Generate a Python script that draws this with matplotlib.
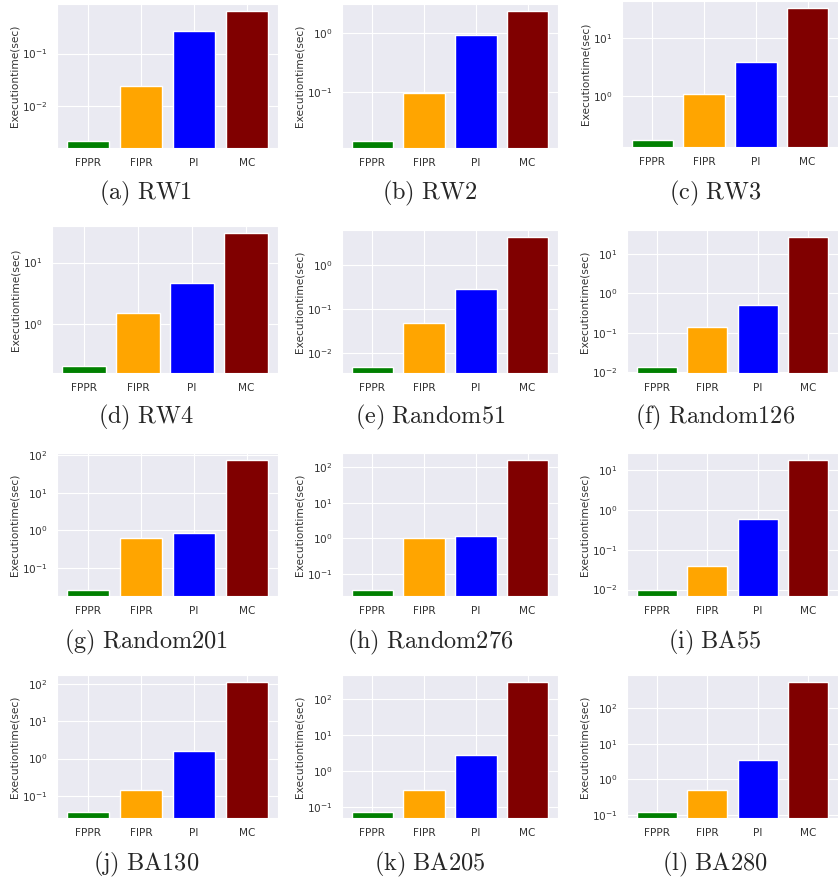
import matplotlib
matplotlib.use("Agg")
import matplotlib.pyplot as plt
import seaborn as sns

sns.set_style("darkgrid")

methods = ["FPPR", "FIPR", "PI", "MC"]
bar_colors = ["green", "orange", "blue", "maroon"]

captions = ["(a) RW1", "(b) RW2", "(c) RW3",
            "(d) RW4", "(e) Random51", "(f) Random126",
            "(g) Random201", "(h) Random276", "(i) BA55",
            "(j) BA130", "(k) BA205", "(l) BA280"]

rw1 = [0.00206, 0.0235, 0.277, 0.67]
rw2 = [0.0146, 0.095, 0.91, 2.39]
rw3 = [0.175, 1.07, 3.87, 32.7]
rw4 = [0.20, 1.47, 4.54, 30.8]
random51 = [0.0050, 0.049, 0.279, 4.4]
random126 = [0.0139, 0.138, 0.50, 27.9]
random201 = [0.027, 0.65, 0.85, 77.0]
random276 = [0.0357, 1.05, 1.16, 168.0]
ba55 = [0.0100, 0.039, 0.60, 18.8]
ba130 = [0.0385, 0.144, 1.63, 115.0]
ba205 = [0.074, 0.287, 2.76, 305.0]
ba280 = [0.126, 0.51, 3.52, 562.0]

datasets = [rw1, rw2, rw3, rw4, random51, random126,
            random201, random276, ba55, ba130, ba205, ba280]

W, H = 838, 877
fig = plt.figure(figsize=(W / 100, H / 100), dpi=100)

# axes rectangles in pixels: left, top, right, bottom
rects = [
    (57, 4, 278, 148), (342, 4, 558, 148), (622, 1, 838, 147),
    (52, 226, 278, 373), (342, 230, 558, 373), (627, 230, 838, 373),
    (57, 453, 278, 596), (342, 453, 558, 596), (627, 453, 838, 596),
    (57, 675, 278, 818), (342, 675, 558, 818), (627, 675, 838, 818),
]
cap_x = [146, 430, 715]
cap_y = [199, 423, 648, 870]

for i, (vals, cap, r) in enumerate(zip(datasets, captions, rects)):
    l, t, rr, b = r
    ax = fig.add_axes([l / W, 1 - b / H, (rr - l) / W, (b - t) / H])
    ax.bar(methods, vals, color=bar_colors, width=0.8)
    ax.set_yscale("log")
    ax.set_ylabel("Executiontime(sec)", fontsize=7.6, color=".2", labelpad=1.5)
    ax.tick_params(axis="both", labelsize=7.6, colors=".2")
    ax.yaxis.set_minor_locator(matplotlib.ticker.NullLocator())
    col, row = i % 3, i // 3
    fig.text(cap_x[col] / W, 1 - cap_y[row] / H,
             r"$\mathrm{" + cap.replace(" ", r"\ ") + "}$",
             ha="center", va="baseline", fontsize=17.5, math_fontfamily="cm")

fig.savefig("out.png", dpi=100)
